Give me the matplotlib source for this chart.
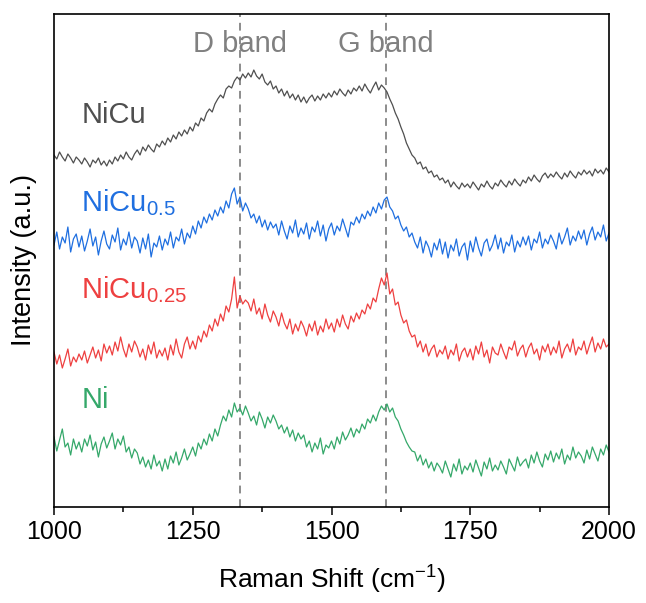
import numpy as np
import matplotlib
matplotlib.use('Agg')
import matplotlib.pyplot as plt
from matplotlib.ticker import MultipleLocator

plt.rcParams['font.family'] = ['Liberation Sans', 'DejaVu Sans']
plt.rcParams['mathtext.fontset'] = 'custom'
plt.rcParams['mathtext.rm'] = 'Liberation Sans'
plt.rcParams['mathtext.it'] = 'Liberation Sans'

# Raman shift grid (cm-1), one value every 5 cm-1
shift = np.arange(1000, 2001, 5)

# intensities (a.u., stacked offsets as in the figure)
nicu = [352, 348, 355, 350, 346, 353, 349, 344, 350, 347,
        343, 349, 345, 340, 347, 344, 349, 342, 346, 341,
        347, 343, 350, 346, 352, 348, 355, 350, 347, 353,
        357, 352, 360, 356, 362, 358, 355, 363, 360, 366,
        362, 369, 365, 372, 368, 375, 371, 377, 373, 380,
        376, 384, 381, 389, 386, 394, 398, 395, 403, 408,
        412, 409, 418, 421, 419, 426, 430, 427, 433, 429,
        434, 430, 437, 431, 428, 433, 425, 422, 426, 418,
        421, 414, 418, 411, 416, 409, 413, 407, 412, 405,
        410, 404, 409, 412, 406, 411, 407, 413, 409, 414,
        410, 416, 412, 418, 414, 411, 417, 413, 419, 416,
        421, 416, 423, 418, 414, 420, 425, 417, 422, 419,
        415, 408, 402, 394, 388, 380, 373, 364, 358, 352,
        349, 343, 345, 338, 340, 334, 336, 330, 332, 327,
        329, 324, 327, 320, 325, 321, 318, 324, 320, 323,
        319, 325, 321, 317, 323, 320, 326, 321, 318, 324,
        321, 327, 323, 320, 326, 322, 328, 324, 321, 327,
        324, 330, 326, 332, 328, 325, 331, 334, 329, 333,
        330, 335, 331, 328, 334, 330, 336, 332, 329, 335,
        332, 337, 333, 336, 331, 338, 334, 337, 333, 339,
        335]

nicu05 = [262, 275, 258, 270, 264, 280, 255, 268, 273, 260,
          271, 256, 266, 278, 261, 270, 252, 266, 276, 263,
          258, 272, 265, 279, 257, 268, 262, 275, 259, 270,
          266, 254, 269, 258, 273, 250, 264, 260, 271, 257,
          268, 262, 275, 259, 270, 266, 278, 263, 274, 269,
          281, 273, 286, 279, 290, 284, 293, 287, 297, 291,
          300, 294, 306, 299, 313, 319, 303, 310, 296, 304,
          298, 289, 293, 284, 291, 280, 287, 277, 285, 279,
          283, 272, 286, 276, 268, 281, 274, 287, 270, 279,
          273, 284, 268, 280, 275, 286, 271, 282, 266, 278,
          284, 272, 281, 276, 288, 279, 270, 285, 282, 290,
          284, 293, 288, 296, 291, 300, 294, 304, 298, 307,
          310, 300, 296, 288, 291, 282, 276, 280, 270, 274,
          265, 259, 270, 254, 266, 260, 250, 264, 257, 268,
          253, 265, 249, 262, 256, 268, 251, 260, 264, 247,
          266, 255, 270, 259, 251, 264, 268, 256, 262, 272,
          258, 269, 254, 265, 261, 272, 255, 266, 260, 270,
          262, 271, 257, 268, 264, 275, 259, 268, 263, 272,
          266, 258, 274, 263, 270, 279, 262, 271, 266, 276,
          268, 277, 262, 273, 280, 267, 275, 270, 282, 266,
          274]

nicu025 = [155, 143, 152, 139, 148, 158, 141, 150, 145, 153,
           147, 156, 144, 152, 160, 149, 157, 146, 163, 154,
           161, 152, 165, 156, 170, 158, 150, 163, 155, 166,
           160, 150, 158, 147, 162, 153, 165, 149, 157, 151,
           159, 147, 162, 152, 168, 155, 149, 163, 170, 158,
           166, 158, 171, 165, 176, 170, 182, 176, 188, 181,
           193, 186, 201, 195, 208, 230, 199, 211, 203, 207,
           204, 196, 208, 193, 199, 188, 203, 192, 185, 196,
           190, 181, 194, 184, 178, 188, 173, 183, 176, 186,
           180, 171, 183, 176, 186, 172, 181, 175, 188, 178,
           184, 175, 188, 180, 192, 183, 178, 191, 185, 194,
           188, 197, 193, 203, 198, 209, 205, 218, 229, 222,
           234, 213, 218, 202, 205, 192, 184, 187, 176, 170,
           172, 160, 166, 155, 163, 151, 158, 162, 150, 157,
           153, 161, 148, 157, 152, 163, 146, 155, 159, 150,
           158, 147, 161, 153, 165, 150, 157, 144, 160, 154,
           152, 163, 155, 148, 160, 157, 166, 151, 158, 162,
           150, 159, 164, 153, 158, 147, 161, 155, 163, 152,
           160, 154, 166, 149, 158, 163, 155, 168, 152, 160,
           157, 166, 153, 162, 170, 155, 164, 158, 168, 160,
           163]

ni = [70, 56, 67, 78, 60, 64, 52, 68, 58, 65,
      55, 68, 61, 72, 57, 65, 50, 63, 70, 59,
      66, 74, 58, 68, 62, 71, 55, 60, 49, 58,
      54, 43, 50, 40, 47, 38, 52, 41, 46, 36,
      48, 38, 51, 44, 55, 42, 49, 58, 47, 53,
      60, 51, 64, 58, 68, 62, 73, 66, 78, 71,
      82, 91, 86, 97, 90, 104, 95, 99, 92, 101,
      94, 86, 91, 82, 95, 88, 79, 90, 84, 92,
      86, 78, 82, 74, 80, 70, 77, 66, 74, 68,
      72, 60, 66, 55, 64, 58, 69, 53, 62, 59,
      66, 58, 70, 63, 75, 67, 72, 79, 70, 78,
      74, 83, 78, 88, 84, 92, 86, 95, 101, 97,
      103, 95, 99, 90, 86, 78, 72, 65, 60, 56,
      55, 46, 52, 42, 48, 39, 45, 36, 44, 40,
      34, 46, 38, 30, 43, 36, 48, 33, 41, 37,
      44, 35, 47, 39, 31, 45, 38, 49, 36, 42,
      37, 46, 40, 33, 48, 42, 36, 50, 41, 45,
      48, 39, 52, 44, 55, 46, 40, 53, 47, 56,
      45, 54, 48, 58, 43, 52, 47, 60, 49, 55,
      51, 44, 57, 48, 60, 53, 46, 58, 52, 62,
      55]

names = ['NiCu', 'NiCu$_{0.5}$', 'NiCu$_{0.25}$', 'Ni']
colors = ['#4f4f4f', '#1f6fe0', '#ee4040', '#35a86a']
label_y = [392, 304, 217, 107]
band_pos = [1335, 1598]
band_names = ['D band', 'G band']

fig = plt.figure(figsize=(6.46, 6.03), dpi=100)
ax = fig.add_axes([54/646, 1 - 507/603, 555/646, 493/603])

for y, c in zip([nicu, nicu05, nicu025, ni], colors):
    ax.plot(shift, y, color=c, lw=0.9)

for xp, t in zip(band_pos, band_names):
    ax.axvline(xp, color='#8c8c8c', lw=1.4, ls=(0, (4, 3)), zorder=0)
    ax.text(xp, 463, t, color='#808080', fontsize=21, ha='center', va='center')

for n, c, ly in zip(names, colors, label_y):
    ax.text(1049, ly, n, color=c, fontsize=21, ha='left', va='center')

ax.set_xlim(1000, 2000)
ax.set_ylim(0, 493)
ax.set_yticks([])
ax.xaxis.set_major_locator(MultipleLocator(250))
ax.xaxis.set_minor_locator(MultipleLocator(125))
ax.tick_params(axis='x', which='major', direction='out', length=6, width=1.1, labelsize=18)
ax.tick_params(axis='x', which='minor', direction='out', length=3.5, width=1.1)
for s in ax.spines.values():
    s.set_linewidth(1.2)

ax.set_xlabel('Raman Shift (cm$^{-1}$)', fontsize=19, labelpad=14)
ax.set_ylabel('Intensity (a.u.)', fontsize=19.5, labelpad=12)

fig.savefig('out.png', dpi=100)
